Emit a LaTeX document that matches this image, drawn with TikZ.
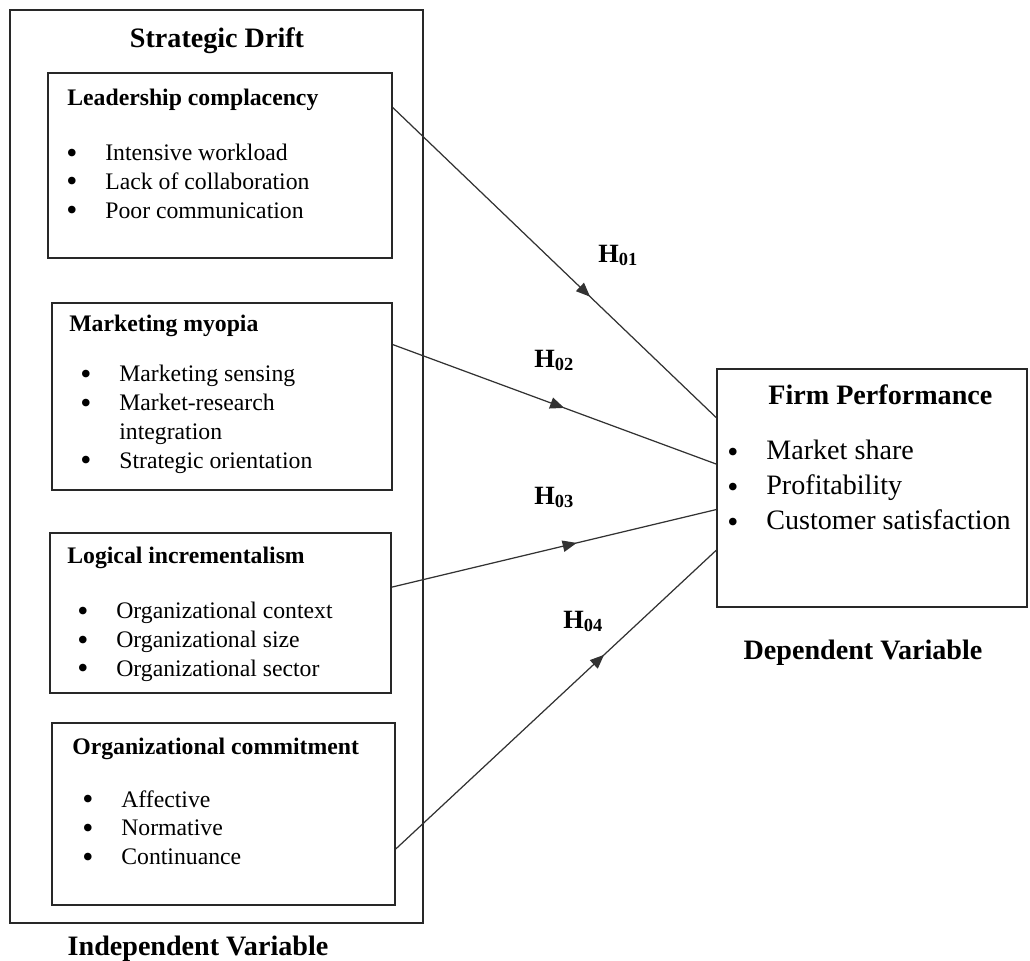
\documentclass[tikz,border=0pt]{standalone}
\usepackage{fontspec}
\setmainfont{Liberation Serif}
\usepackage{tikz}
\usetikzlibrary{arrows.meta, calc, decorations.markings}
\definecolor{boxline}{RGB}{40,40,40}
\definecolor{linkline}{RGB}{50,50,50}
\newcommand{\bul}{\makebox[0.78cm][l]{\raisebox{-0.1em}{\fontsize{18}{18}\selectfont\textbullet}}}
\newcommand{\nobul}{\makebox[0.78cm][l]{}}
\tikzset{
  outerbox/.style={rectangle, draw=boxline, line width=1pt, inner sep=0pt},
  varbox/.style={rectangle, draw=boxline, line width=1pt, inner sep=0pt},
  headtitle/.style={font=\fontsize{16}{19}\selectfont\bfseries, anchor=base, inner sep=0pt},
  boxtitle/.style={font=\fontsize{13.5}{16.4}\selectfont\bfseries, anchor=base west, inner sep=0pt},
  itemlist/.style={font=\fontsize{13.5}{16.4}\selectfont, align=left, anchor=north west, inner sep=0pt},
  bigtitle/.style={font=\fontsize{16}{19}\selectfont\bfseries, anchor=base west, inner sep=0pt},
  biglist/.style={font=\fontsize{16}{19.8}\selectfont, align=left, anchor=north west, inner sep=0pt},
  hlabel/.style={font=\fontsize{15}{18}\selectfont\bfseries, anchor=base west, inner sep=0pt},
  hyp/.style={draw=linkline, line width=0.7pt, postaction={decorate},
    decoration={markings, mark=at position #1 with {\arrow{Triangle[length=8pt, width=6.5pt]}}}}
}

\begin{document}
\begin{tikzpicture}[x=0.02cm, y=-0.02cm]
  \useasboundingbox (0,0) rectangle (1030,960);

  % Strategic Drift (independent side)
  \node[outerbox, minimum width=8.26cm, minimum height=18.26cm] (sd) at (216.5,466.5) {};
  \node[headtitle] (sdt) at (217,47) {Strategic Drift};

  % Leadership complacency
  \node[varbox, minimum width=6.88cm, minimum height=3.70cm] (lc) at (220,165.5) {};
  \node[boxtitle] (lct) at (67,105) {Leadership complacency};
  \node[itemlist] (lci) at (66,144) {\bul Intensive workload\\ \bul Lack of collaboration\\ \bul Poor communication};

  % Marketing myopia
  \node[varbox, minimum width=6.80cm, minimum height=3.74cm] (mm) at (222,396.5) {};
  \node[boxtitle] (mmt) at (69,331) {Marketing myopia};
  \node[itemlist] (mmi) at (80,365) {\bul Marketing sensing\\ \bul Market-research\\ \nobul integration\\ \bul Strategic orientation};

  % Logical incrementalism
  \node[varbox, minimum width=6.82cm, minimum height=3.20cm] (li) at (220.5,613) {};
  \node[boxtitle] (lit) at (67,563) {Logical incrementalism};
  \node[itemlist] (lii) at (77,602) {\bul Organizational context\\ \bul Organizational size\\ \bul Organizational sector};

  % Organizational commitment
  \node[varbox, minimum width=6.86cm, minimum height=3.64cm] (oc) at (223.5,814) {};
  \node[boxtitle] (oct) at (72,754) {Organizational commitment};
  \node[itemlist] (oci) at (82,790) {\bul Affective\\ \bul Normative\\ \bul Continuance};

  \node[headtitle] (iv) at (198,955) {Independent Variable};

  % Firm Performance (dependent side)
  \node[varbox, minimum width=6.20cm, minimum height=4.76cm] (fp) at (872,488) {};
  \node[bigtitle] (fpt) at (768,404) {Firm Performance};
  \node[biglist] (fpi) at (727,440) {\bul Market share\\ \bul Profitability\\ \bul Customer satisfaction};
  \node[headtitle] (dv) at (863,659) {Dependent Variable};

  % Hypotheses
  \draw[hyp=0.61] ($(lc.north east)!0.19!(lc.south east)$) -- ($(fp.north west)!0.206!(fp.south west)$);
  \draw[hyp=0.53] ($(mm.north east)!0.225!(mm.south east)$) -- ($(fp.north west)!0.40!(fp.south west)$);
  \draw[hyp=0.57] ($(li.north east)!0.34!(li.south east)$) -- ($(fp.north west)!0.59!(fp.south west)$);
  \draw[hyp=0.65] ($(oc.north east)!0.69!(oc.south east)$) -- ($(fp.north west)!0.76!(fp.south west)$);
  \node[hlabel] (h1) at (598,262) {H\textsubscript{01}};
  \node[hlabel] (h2) at (534,367) {H\textsubscript{02}};
  \node[hlabel] (h3) at (534,504) {H\textsubscript{03}};
  \node[hlabel] (h4) at (563,628) {H\textsubscript{04}};
\end{tikzpicture}
\end{document}
